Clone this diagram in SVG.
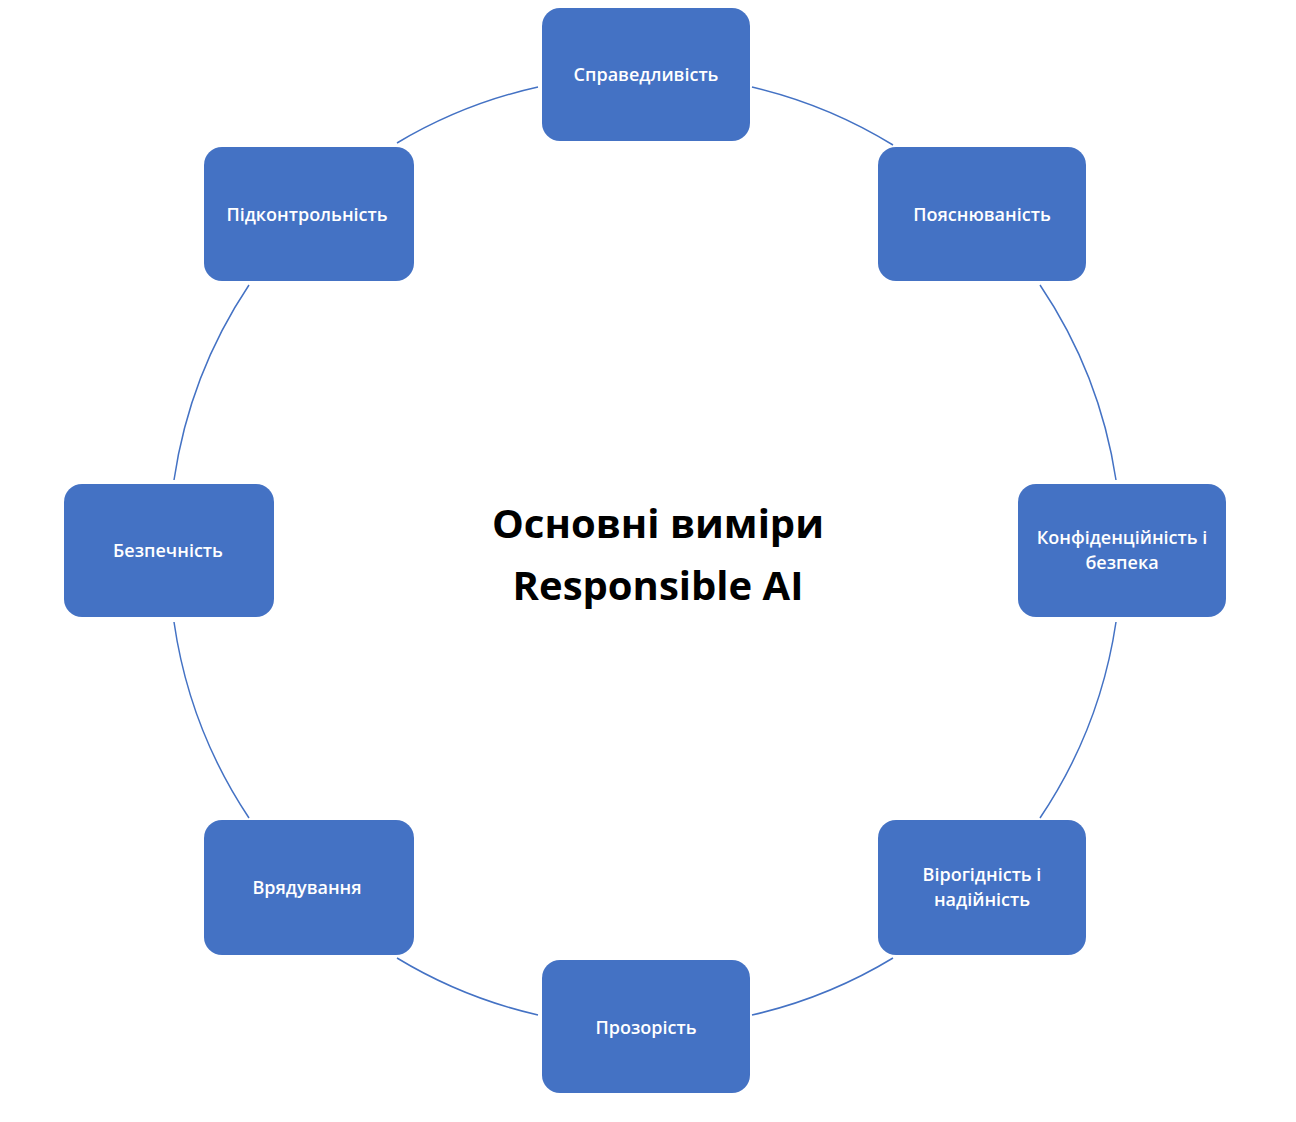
<svg xmlns="http://www.w3.org/2000/svg" width="1296" height="1122" viewBox="0 0 1296 1122">
<style>
.b{fill:#4472C4}
.t{fill:#fff;font-family:"Open Sans","Liberation Sans",sans-serif;font-size:18px;font-weight:600;text-anchor:middle}
.c{fill:none;stroke:#4472C4;stroke-width:1.5}
.h{font-family:"Open Sans","Liberation Sans",sans-serif;font-size:40px;font-weight:700;text-anchor:middle;fill:#000}
</style>
<rect width="1296" height="1122" fill="#fff"/>
<g id="connectors">
<path class="c" d="M752,87 A476,476 0 0 1 893,145"/>
<path class="c" d="M1040,285 A476,476 0 0 1 1116,480"/>
<path class="c" d="M1116,622 A476,476 0 0 1 1040,818"/>
<path class="c" d="M893,958 A476,476 0 0 1 752,1015"/>
<path class="c" d="M538,1015 A476,476 0 0 1 397,958"/>
<path class="c" d="M249,818 A476,476 0 0 1 174,622"/>
<path class="c" d="M174,480 A476,476 0 0 1 249,285"/>
<path class="c" d="M397,143 A476,476 0 0 1 538,87"/>
</g>
<g id="center"><text class="h" x="658" y="538">Основні виміри</text><text class="h" x="658" y="600">Responsible AI</text></g>
<g id="n1"><rect class="b" x="542" y="8" width="208" height="133" rx="18"/><text class="t" x="646" y="81">Справедливість</text></g>
<g id="n2"><rect class="b" x="878" y="147" width="208" height="134" rx="18"/><text class="t" x="982" y="221">Пояснюваність</text></g>
<g id="n3"><rect class="b" x="1018" y="484" width="208" height="133" rx="18"/><text class="t" x="1122" y="544">Конфіденційність і</text><text class="t" x="1122" y="569">безпека</text></g>
<g id="n4"><rect class="b" x="878" y="820" width="208" height="135" rx="18"/><text class="t" x="982" y="881">Вірогідність і</text><text class="t" x="982" y="906">надійність</text></g>
<g id="n5"><rect class="b" x="542" y="960" width="208" height="133" rx="18"/><text class="t" x="646" y="1034">Прозорість</text></g>
<g id="n6"><rect class="b" x="204" y="820" width="210" height="135" rx="18"/><text class="t" x="307" y="894">Врядування</text></g>
<g id="n7"><rect class="b" x="64" y="484" width="210" height="133" rx="18"/><text class="t" x="168" y="557">Безпечність</text></g>
<g id="n8"><rect class="b" x="204" y="147" width="210" height="134" rx="18"/><text class="t" x="307" y="221">Підконтрольність</text></g>
</svg>
